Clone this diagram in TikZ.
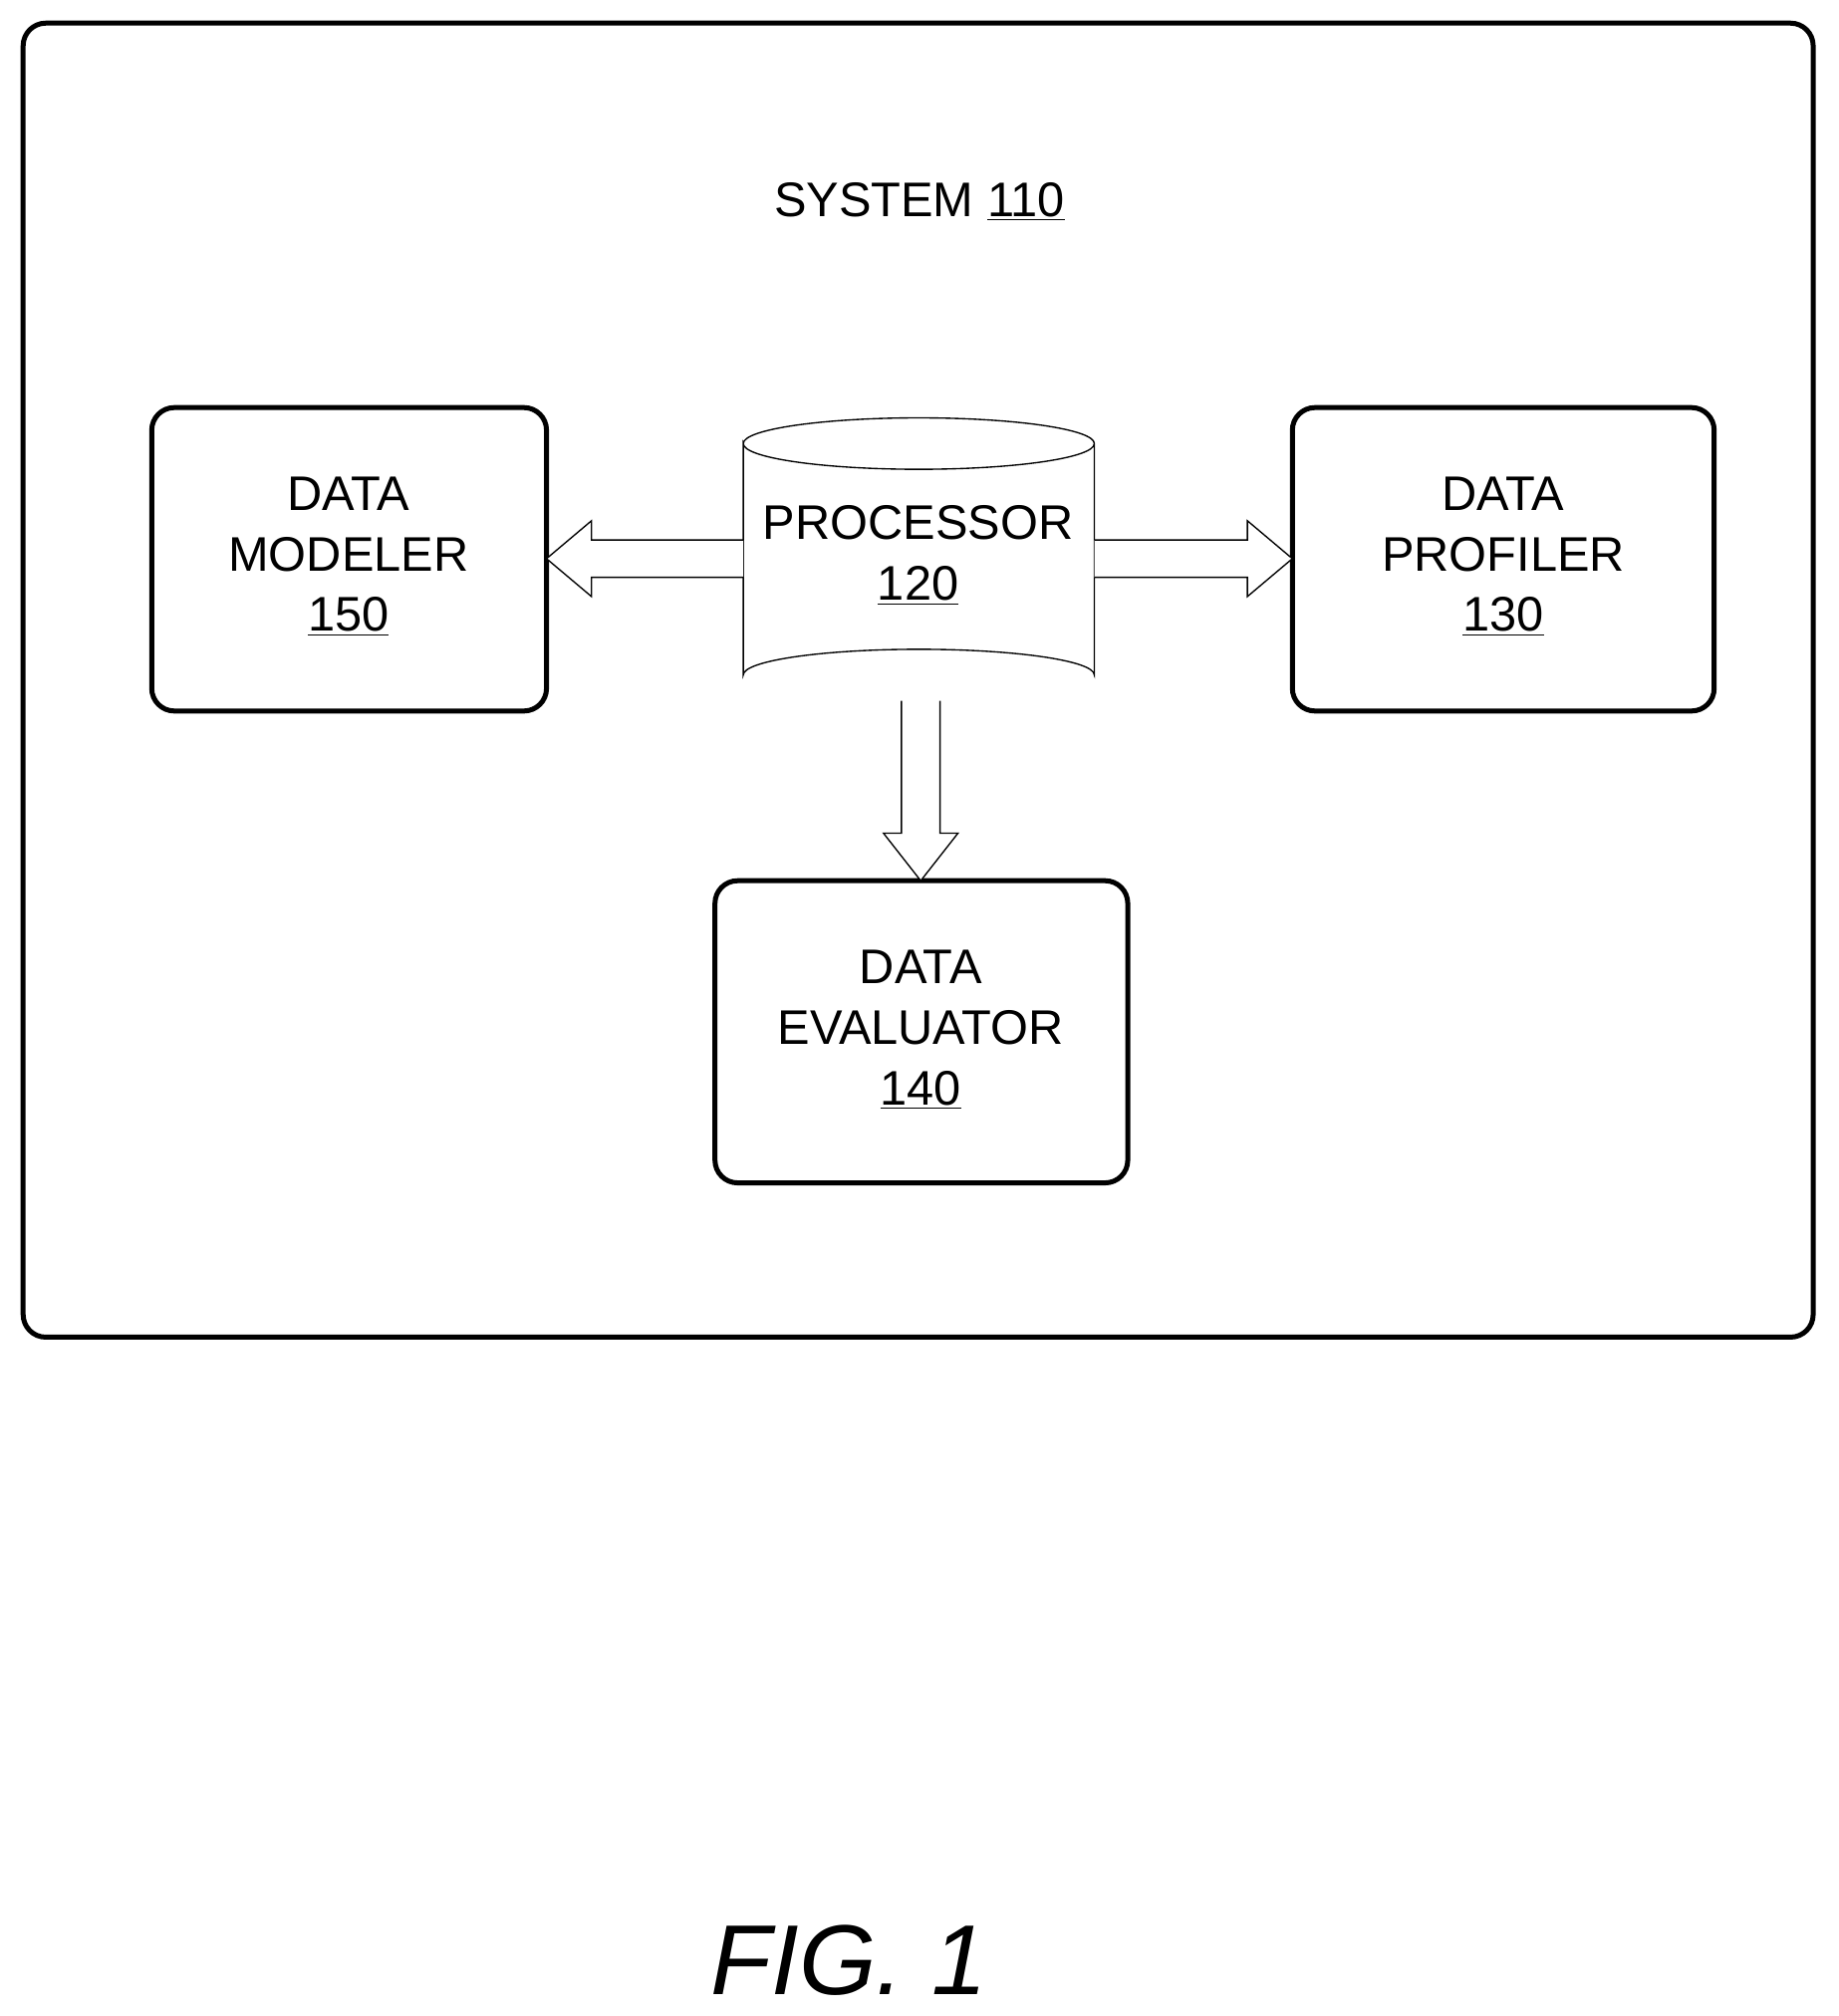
\documentclass[tikz,border=0pt]{standalone}
\usepackage{fontspec}
\setmainfont{Liberation Sans}
\begin{document}
\begin{tikzpicture}[x=0.02cm,y=-0.02cm,
  box/.style={draw,line width=2.2pt,rounded corners=10pt},
  lbl/.style={align=center,font=\fontsize{21.5}{26.8}\selectfont},
  harrow/.style={draw,line width=0.6pt,fill=white}]
\useasboundingbox (0,0) rectangle (1430,1568);
\draw[box] (18,18) rectangle (1410,1040);
\node[lbl] (sys) at (715,157) {SYSTEM \underline{110}};
\draw[box] (118,317) rectangle (425,553);
\node[lbl] (mod) at (271,433) {DATA\\MODELER\\\underline{150}};
\draw[box] (1005,317) rectangle (1333,553);
\node[lbl] (prof) at (1169,433) {DATA\\PROFILER\\\underline{130}};
\draw[box] (556,685) rectangle (877,920);
\node[lbl] (eval) at (716,801) {DATA\\EVALUATOR\\\underline{140}};
% cylinder
\draw[line width=0.6pt] (578,345) arc[start angle=180,end angle=360,x radius=136.5,y radius=20]
  arc[start angle=0,end angle=180,x radius=136.5,y radius=20] -- (578,525)
  arc[start angle=180,end angle=360,x radius=136.5,y radius=20] -- (851,345);
\node[lbl] (proc) at (714,432) {PROCESSOR\\\underline{120}};
% arrows
\draw[harrow] (578,420) -- (460,420) -- (460,405) -- (425,434.5) -- (460,464) -- (460,449) -- (578,449);
\draw[harrow] (851,420) -- (970,420) -- (970,405) -- (1005,434.5) -- (970,464) -- (970,449) -- (851,449);
\draw[harrow] (701,545) -- (701,648) -- (687,648) -- (716,685) -- (745,648) -- (731,648) -- (731,545);
\node[font=\fontsize{44}{50}\selectfont\itshape] (fig) at (660,1525) {FIG. 1};
\end{tikzpicture}
\end{document}
